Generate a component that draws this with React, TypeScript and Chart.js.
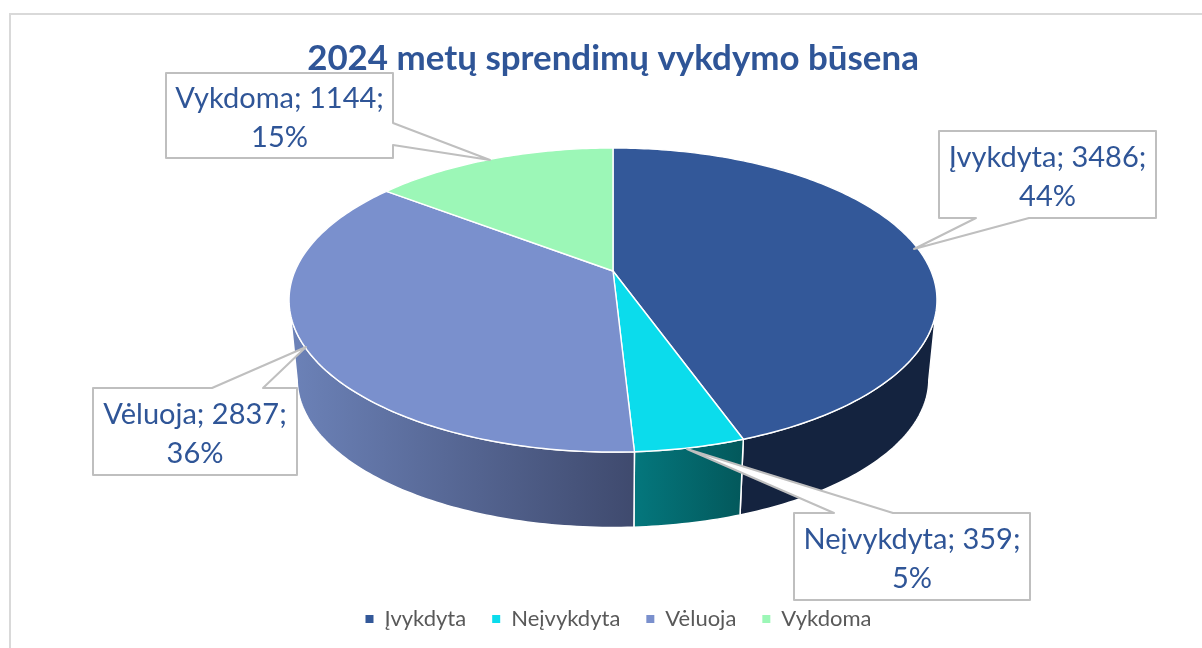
import React, { useEffect, useRef } from "react";
import { Chart, registerables } from "chart.js";

Chart.register(...registerables);

const titleText = "2024 metų sprendimų vykdymo būsena";
const categories = ["Įvykdyta", "Neįvykdyta", "Vėluoja", "Vykdoma"];
const values = [3486, 359, 2837, 1144];
const percents = [44, 5, 36, 15];

const topColors = ["#335899", "#0bdcec", "#7a90cd", "#9cf7b7"];
const wallLeft = ["#14233f", "#04777d", "#6c82b8", "#5f9070"];
const wallRight = ["#14233f", "#03585b", "#3f4a6e", "#5f9070"];

const FONT = "Lato";
const TEXT = "#2f5597";

// Perspective of the pie disc
const CX = 613;
const K = -0.1908;
const top = { y0: 271, a: 146.5, b: 318 };
const bottom = { y0: 351, a: 142.8, b: 310 };
const project = (p: { y0: number; a: number; b: number }, ang: number) => {
  const u = Math.cos(ang);
  const v = Math.sin(ang);
  const w = 1 + K * v;
  return { x: CX + (p.b * u) / w, y: p.y0 + (p.a * v) / w };
};
const arcPts = (p: { y0: number; a: number; b: number }, a0: number, a1: number) => {
  const n = Math.max(4, Math.ceil(Math.abs(a1 - a0) * 60));
  const out = [];
  for (let i = 0; i <= n; i++) out.push(project(p, a0 + ((a1 - a0) * i) / n));
  return out;
};
// Angles where the disc's outline turns from the back to the front
const FRONT_START = 0.198;
const FRONT_END = Math.PI - 0.198;

// Callout boxes: rectangle, pointer tip, pointer base points
const callouts = [
  { x0: 939, y0: 131, x1: 1156, y1: 218, tip: [914, 249], base: [[1029, 218], [976, 218]], side: "bottom" },
  { x0: 794, y0: 513, x1: 1030, y1: 600, tip: [687, 449], base: [[834, 513], [893, 513]], side: "top" },
  { x0: 93, y0: 388, x1: 297, y1: 475, tip: [306, 347], base: [[212, 388], [263, 388]], side: "top" },
  { x0: 166, y0: 73, x1: 393, y1: 158, tip: [490, 160], base: [[393, 123], [393, 145]], side: "right" },
];

const pie3d = {
  id: "pie3d",
  afterLayout(chart: any) {
    chart.legend.left += 5.5;
    chart.legend.right += 5.5;
  },
  beforeDraw(chart: any) {
    const { ctx } = chart;
    ctx.save();
    ctx.fillStyle = "#ffffff";
    ctx.fillRect(0, 0, chart.width, chart.height);
    ctx.strokeStyle = "#d9d9d9";
    ctx.lineWidth = 2;
    ctx.strokeRect(10, 14, 1400, 900);
    ctx.restore();
  },
  beforeDatasetsDraw(chart: any) {
    const { ctx } = chart;
    const arcs = chart.getDatasetMeta(0).data;
    ctx.save();
    ctx.lineJoin = "round";
    // side walls (front-facing part of each slice only)
    arcs.forEach((arc: any, i: number) => {
      const a0 = Math.max(arc.startAngle, FRONT_START);
      const a1 = Math.min(arc.endAngle, FRONT_END);
      if (a1 <= a0) return;
      const t = arcPts(top, a0, a1);
      const b = arcPts(bottom, a0, a1).reverse();
      const xs = t.concat(b).map((p) => p.x);
      const g = ctx.createLinearGradient(Math.min(...xs), 0, Math.max(...xs), 0);
      g.addColorStop(0, wallLeft[i]);
      g.addColorStop(1, wallRight[i]);
      ctx.beginPath();
      t.concat(b).forEach((p, j) => (j ? ctx.lineTo(p.x, p.y) : ctx.moveTo(p.x, p.y)));
      ctx.closePath();
      ctx.fillStyle = g;
      ctx.fill();
      ctx.strokeStyle = "#ffffff";
      ctx.lineWidth = 1.5;
      ctx.stroke();
    });
    // top faces
    arcs.forEach((arc: any, i: number) => {
      const t = arcPts(top, arc.startAngle, arc.endAngle);
      ctx.beginPath();
      ctx.moveTo(CX, top.y0);
      t.forEach((p) => ctx.lineTo(p.x, p.y));
      ctx.closePath();
      ctx.fillStyle = topColors[i];
      ctx.fill();
      ctx.strokeStyle = "#ffffff";
      ctx.lineWidth = 1.4;
      ctx.stroke();
    });
    ctx.restore();
    return false;
  },
  afterDraw(chart: any) {
    const { ctx } = chart;
    ctx.save();
    ctx.lineJoin = "round";
    callouts.forEach((c, i) => {
      ctx.beginPath();
      ctx.moveTo(c.x0, c.y0);
      if (c.side === "top") {
        ctx.lineTo(c.base[0][0], c.base[0][1]);
        ctx.lineTo(c.tip[0], c.tip[1]);
        ctx.lineTo(c.base[1][0], c.base[1][1]);
      }
      ctx.lineTo(c.x1, c.y0);
      if (c.side === "right") {
        ctx.lineTo(c.base[0][0], c.base[0][1]);
        ctx.lineTo(c.tip[0], c.tip[1]);
        ctx.lineTo(c.base[1][0], c.base[1][1]);
      }
      ctx.lineTo(c.x1, c.y1);
      if (c.side === "bottom") {
        ctx.lineTo(c.base[0][0], c.base[0][1]);
        ctx.lineTo(c.tip[0], c.tip[1]);
        ctx.lineTo(c.base[1][0], c.base[1][1]);
      }
      ctx.lineTo(c.x0, c.y1);
      ctx.closePath();
      ctx.fillStyle = "#ffffff";
      ctx.fill();
      ctx.strokeStyle = "#bfbfbf";
      ctx.lineWidth = 2;
      ctx.stroke();
      ctx.fillStyle = TEXT;
      ctx.font = `400 29px ${FONT}`;
      ctx.textAlign = "center";
      ctx.textBaseline = "middle";
      const mx = (c.x0 + c.x1) / 2;
      const my = (c.y0 + c.y1) / 2;
      ctx.fillText(`${categories[i]}; ${values[i]};`, mx, my - 17);
      ctx.fillText(`${percents[i]}%`, mx, my + 22);
    });
    ctx.restore();
  },
};

export default function App() {
  const ref = useRef<HTMLCanvasElement>(null);
  useEffect(() => {
    const chart = new Chart(ref.current as HTMLCanvasElement, {
      type: "pie",
      data: {
        labels: categories,
        datasets: [{ data: values, backgroundColor: topColors, borderWidth: 0 }],
      },
      plugins: [pie3d],
      options: {
        animation: false,
        responsive: false,
        layout: { padding: { left: 24, right: 0, top: 0, bottom: 8 } },
        plugins: {
          title: {
            display: true,
            text: titleText,
            color: TEXT,
            font: { family: FONT, size: 34.9, weight: "bold" },
            padding: { top: 38, bottom: 10 },
          },
          legend: {
            display: true,
            position: "bottom",
            labels: {
              boxWidth: 8,
              boxHeight: 8,
              padding: 26,
              color: "#595959",
              font: { family: FONT, size: 22 },
            },
          },
          tooltip: { enabled: false },
        },
      },
    } as any);
    return () => chart.destroy();
  }, []);
  return (
    <div style={{ position: "absolute", left: 0, top: 0, width: 1202, height: 648, overflow: "hidden" }}>
      <canvas ref={ref} width={1202} height={648} style={{ display: "block" }} />
    </div>
  );
}
